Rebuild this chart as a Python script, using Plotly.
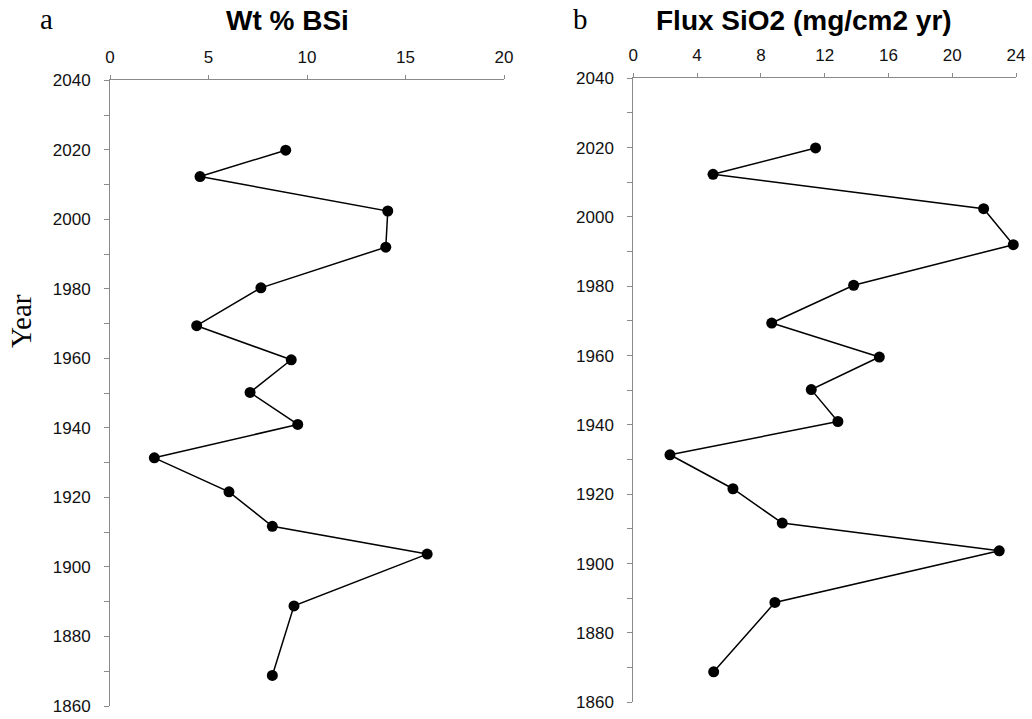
import plotly.graph_objects as go

W, H = 1032, 719

years = [2019.9, 2012.3, 2002.4, 1992.0, 1980.3, 1969.4, 1959.6, 1950.2,
         1941.0, 1931.4, 1921.6, 1911.7, 1903.7, 1888.8, 1868.8]
wt_bsi = [8.92, 4.57, 14.1, 14.0, 7.66, 4.40, 9.20, 7.11,
          9.53, 2.25, 6.04, 8.24, 16.1, 9.34, 8.24]
flux_sio2 = [11.43, 5.0, 21.97, 23.83, 13.82, 8.68, 15.43, 11.16,
             12.83, 2.30, 6.25, 9.34, 22.95, 8.88, 5.04]

title_a = "Wt % BSi"
title_b = "Flux SiO2 (mg/cm2 yr)"
y_title = "Year"

def px_x(p):
    return p / W

def px_y(p):
    return 1 - p / H

sans = "Liberation Sans, Arial, sans-serif"
serif = "Liberation Serif, Times New Roman, serif"
axis_col = "#8a8a8a"

fig = go.Figure()
fig.add_trace(go.Scatter(x=wt_bsi, y=years, mode="lines+markers",
                         line=dict(color="black", width=1.5),
                         marker=dict(color="black", size=11),
                         xaxis="x", yaxis="y", showlegend=False,
                         cliponaxis=False))
fig.add_trace(go.Scatter(x=flux_sio2, y=years, mode="lines+markers",
                         line=dict(color="black", width=1.5),
                         marker=dict(color="black", size=11),
                         xaxis="x2", yaxis="y2", showlegend=False,
                         cliponaxis=False))

def xax(domain, rng, dt, anchor):
    return dict(domain=domain, range=rng, dtick=dt, tick0=0, side="top",
                anchor=anchor, showgrid=False, zeroline=False,
                showline=True, linecolor=axis_col, linewidth=1,
                ticks="outside", ticklen=4, tickcolor=axis_col,
                ticklabelstandoff=6, automargin=False,
                tickfont=dict(family=sans, size=17, color="#111"))

def yax(domain, anchor):
    return dict(domain=domain, range=[1860, 2040], dtick=20, tick0=1860,
                anchor=anchor, showgrid=False, zeroline=False,
                showline=True, linecolor=axis_col, linewidth=1,
                ticks="outside", ticklen=5, tickcolor=axis_col,
                ticklabelstandoff=10, automargin=False,
                minor=dict(dtick=10, ticks="outside", ticklen=5,
                           tickcolor=axis_col, showgrid=False),
                tickfont=dict(family=sans, size=17, color="#111"))

fig.update_layout(
    width=W, height=H,
    margin=dict(l=0, r=0, t=0, b=0),
    paper_bgcolor="white", plot_bgcolor="white",
    xaxis=xax([px_x(110), px_x(504)], [0, 20], 5, "y"),
    yaxis=yax([px_y(706), px_y(80.3)], "x"),
    xaxis2=xax([px_x(633.3), px_x(1016)], [0, 24], 4, "y2"),
    yaxis2=yax([px_y(702.3), px_y(78.3)], "x2"),
    annotations=[
        dict(text="<b>" + title_a + "</b>", x=px_x(287), y=px_y(20),
             xref="paper", yref="paper", showarrow=False,
             xanchor="center", yanchor="middle",
             font=dict(family=sans, size=28, color="black")),
        dict(text="<b>" + title_b + "</b>", x=px_x(804), y=px_y(20),
             xref="paper", yref="paper", showarrow=False,
             xanchor="center", yanchor="middle",
             font=dict(family=sans, size=28, color="black")),
        dict(text="a", x=px_x(46), y=px_y(19),
             xref="paper", yref="paper", showarrow=False,
             xanchor="center", yanchor="middle",
             font=dict(family=serif, size=29, color="black")),
        dict(text="b", x=px_x(580), y=px_y(19),
             xref="paper", yref="paper", showarrow=False,
             xanchor="center", yanchor="middle",
             font=dict(family=serif, size=29, color="black")),
        dict(text=y_title, x=px_x(21), y=px_y(321),
             xref="paper", yref="paper", showarrow=False,
             xanchor="center", yanchor="middle", textangle=-90,
             font=dict(family=serif, size=29, color="black")),
    ],
)

fig.write_html("out.html")
